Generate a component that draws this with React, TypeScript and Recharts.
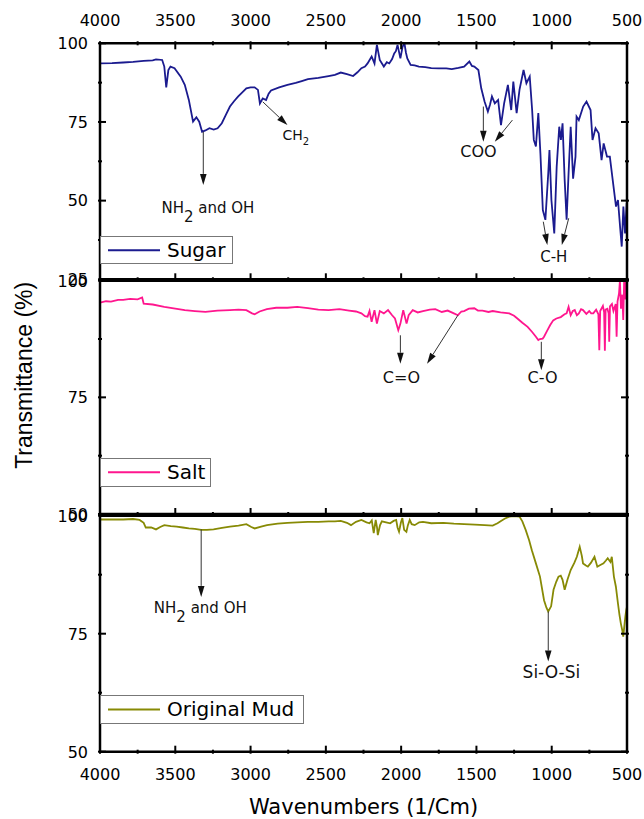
import React from 'react';
import { LineChart, Line, XAxis, YAxis, Legend, ReferenceLine, ReferenceDot } from 'recharts';

const FONT = '"DejaVu Sans", sans-serif';
const ARIAL = '"Liberation Sans", Arial, sans-serif';

// shared wavenumber ticks (major every 500, minor every 250)
const xTicks = [4000, 3750, 3500, 3250, 3000, 2750, 2500, 2250, 2000, 1750, 1500, 1250, 1000, 750, 500];
const sugarYTicks = [25, 37.5, 50, 62.5, 75, 87.5, 100];
const lowerYTicks = [50, 62.5, 75, 87.5, 100];

// Sugar spectrum
const sugarWavenumbers = [
  4000, 3920, 3846, 3780, 3710, 3650, 3628, 3587, 3573, 3560, 3546, 3532, 3505, 3464, 3437, 3410,
  3382, 3360, 3341, 3322, 3300, 3273, 3245, 3219, 3191, 3165, 3137, 3110, 3082, 3055, 3028, 3000,
  2973, 2951, 2938, 2919, 2897, 2880, 2864, 2810, 2755, 2700, 2660, 2619, 2550, 2482, 2440, 2401,
  2360, 2319, 2290, 2264, 2240, 2223, 2196, 2177, 2161, 2142, 2115, 2095, 2079, 2060, 2046, 2035,
  2024, 2005, 1990, 1978, 1968, 1959, 1937, 1910, 1882, 1840, 1800, 1750, 1700, 1664, 1620, 1582,
  1547, 1530, 1514, 1487, 1468, 1446, 1424, 1410, 1397, 1378, 1356, 1337, 1316, 1291, 1269, 1255,
  1233, 1214, 1187, 1168, 1146, 1130, 1119, 1105, 1089, 1075, 1059, 1042, 1023, 1015, 1002, 983,
  967, 950, 939, 928, 914, 901, 888, 874, 858, 842, 835, 820, 791, 769, 742, 729, 709, 688, 669,
  655, 633, 614, 595, 573, 560, 546, 535, 524, 513, 502, 500,
];
const sugarTransmittance = [
  93.6, 93.7, 93.9, 94.1, 94.4, 94.6, 94.9, 94.7, 92.6, 86.0, 91.5, 92.6, 92.1, 89.4, 86.8, 82.0,
  75.1, 76.5, 75.1, 71.9, 72.3, 73.0, 72.6, 73.0, 74.6, 77.2, 79.9, 81.6, 83.1, 84.4, 85.7, 86.0,
  86.0, 85.2, 80.9, 82.5, 82.0, 84.0, 85.0, 86.0, 86.8, 87.4, 88.0, 88.6, 89.0, 89.6, 90.0, 90.7,
  90.2, 89.6, 90.8, 92.1, 92.6, 93.6, 95.8, 93.6, 99.5, 94.7, 92.6, 94.0, 93.6, 95.0, 96.8, 97.5,
  99.5, 95.2, 99.0, 100, 97.0, 95.2, 93.1, 93.0, 92.6, 92.4, 92.1, 92.0, 92.0, 91.8, 92.2, 92.6,
  94.2, 92.8, 92.6, 91.5, 85.7, 81.5, 78.3, 80.5, 83.1, 80.9, 82.0, 74.0, 80.9, 86.8, 78.8, 87.8,
  77.8, 85.2, 91.5, 87.3, 89.4, 78.8, 69.3, 67.2, 77.8, 65.0, 47.0, 43.9, 58.7, 66.1, 50.2, 39.6,
  60.8, 73.5, 69.3, 74.6, 56.6, 43.9, 58.7, 73.5, 57.0, 64.0, 76.7, 75.6, 79.9, 81.5, 78.8, 69.3, 73.0, 71.4, 62.9,
  68.2, 64.0, 64.0, 56.6, 48.1, 50.2, 41.7, 35.4, 48.1, 39.6, 49.2, 46.0,
];

// Salt spectrum
const saltWavenumbers = [
  4000, 3960, 3927, 3880, 3846, 3800, 3750, 3720, 3710, 3650, 3573, 3500, 3437, 3370, 3300, 3220,
  3137, 3080, 3028, 2990, 2973, 2940, 2892, 2830, 2755, 2690, 2619, 2550, 2482, 2410, 2346, 2300,
  2264, 2240, 2223, 2210, 2196, 2177, 2161, 2142, 2115, 2087, 2060, 2041, 2019, 2005, 1986, 1964,
  1950, 1923, 1890, 1855, 1810, 1773, 1730, 1691, 1650, 1623, 1600, 1582, 1550, 1514, 1490, 1460,
  1420, 1392, 1340, 1282, 1250, 1228, 1195, 1160, 1130, 1105, 1089, 1078, 1060, 1051, 1030, 1010,
  990, 969, 940, 915, 901, 888, 874, 860, 847, 833, 820, 805, 792, 770, 751, 738, 724, 705, 690,
  684, 678, 660, 652, 647, 642, 630, 622, 618, 613, 600, 590, 575, 569, 563, 553, 547, 540, 531,
  525, 519, 513, 507, 500,
];
const saltTransmittance = [
  95.3, 95.6, 95.5, 95.9, 95.9, 96.1, 96.0, 96.4, 95.1, 94.9, 94.4, 94.0, 93.7, 93.5, 93.3, 93.6,
  93.7, 93.8, 93.7, 93.0, 92.8, 93.4, 93.9, 94.2, 94.2, 94.4, 94.1, 93.8, 93.7, 93.9, 93.6, 93.4,
  93.0, 92.4, 92.3, 93.5, 91.2, 93.7, 90.8, 93.5, 93.0, 93.7, 92.6, 91.9, 89.4, 90.8, 93.7, 90.8,
  92.6, 93.7, 93.2, 93.5, 93.8, 93.9, 93.3, 93.6, 93.0, 92.6, 93.4, 93.5, 94.0, 94.1, 93.6, 93.6,
  93.3, 93.5, 93.2, 93.0, 92.5, 91.9, 91.0, 90.1, 89.0, 88.0, 87.3, 87.5, 87.6, 88.0, 89.3, 90.5,
  91.5, 91.9, 92.2, 92.8, 93.0, 94.4, 92.6, 93.5, 93.7, 92.6, 93.0, 93.9, 93.7, 92.9, 93.5, 93.0, 93.0, 93.8, 92.8,
  85.1, 93.5, 94.6, 93.2, 85.0, 93.8, 94.0, 93.0, 86.9, 94.5, 95.0, 93.5, 95.0, 88.0, 95.5, 97.3, 100, 94.0, 97.0,
  91.6, 100, 96.0, 100, 97.0,
];

// Original mud spectrum
const mudWavenumbers = [
  4000, 3920, 3846, 3780, 3737, 3710, 3696, 3660, 3628, 3600, 3573, 3530, 3491, 3450, 3410, 3370,
  3328, 3290, 3246, 3190, 3137, 3080, 3028, 2995, 2973, 2930, 2891, 2820, 2755, 2690, 2619, 2550,
  2482, 2440, 2401, 2360, 2333, 2300, 2264, 2230, 2210, 2195, 2182, 2169, 2160, 2155, 2140, 2128,
  2100, 2073, 2050, 2033, 2024, 2014, 2002, 1992, 1980, 1965, 1955, 1943, 1930, 1910, 1880, 1855,
  1800, 1719, 1650, 1582, 1510, 1446, 1392, 1360, 1337, 1310, 1282, 1250, 1214, 1195, 1173, 1150,
  1132, 1105, 1078, 1051, 1035, 1023, 1004, 988, 970, 955, 940, 928, 914, 895, 874, 850, 833, 814,
  800, 792, 775, 760, 740, 716, 697, 680, 656, 640, 628, 610, 601, 595, 587, 574, 560, 550, 541,
  530, 525, 518, 511, 505, 500,
];
const mudTransmittance = [
  99.2, 99.2, 99.2, 99.3, 99.1, 98.5, 97.5, 97.5, 97.1, 97.6, 98.0, 97.8, 97.7, 97.5, 97.3, 97.2,
  97.0, 97.0, 97.1, 97.4, 97.7, 97.9, 98.2, 97.6, 97.3, 97.7, 98.0, 98.3, 98.5, 98.6, 98.7, 98.7,
  98.8, 98.8, 98.9, 98.5, 98.0, 98.7, 99.1, 98.6, 98.4, 99.0, 96.3, 99.1, 97.5, 95.9, 98.0, 98.8,
  98.6, 98.4, 98.9, 99.1, 97.5, 96.6, 98.5, 99.5, 97.0, 96.6, 98.0, 99.1, 98.2, 98.0, 98.6, 98.7,
  98.4, 98.5, 98.3, 98.2, 98.1, 98.0, 97.9, 98.4, 98.9, 99.4, 99.8, 99.9, 99.8, 98.8, 97.0, 94.8,
  92.7, 89.9, 87.1, 82.1, 80.5, 79.7, 80.8, 84.3, 86.0, 87.1, 87.3, 86.4, 84.3, 86.5, 88.5, 90.0, 91.3, 93.4,
  91.5, 89.9, 89.5, 89.2, 90.0, 91.3, 89.2, 89.5, 89.9, 90.5, 91.0, 90.2, 91.3, 89.5, 87.1, 85.0, 81.4, 79.0, 77.2,
  75.5, 74.4, 76.5, 78.6, 80.0, 80.7,
];

// band assignments: arrows (wavenumber, transmittance) and their labels
const sugarArrows = [
  { x1: 3314, y1: 71.9, x2: 3314, y2: 55 },
  { x1: 2919, y1: 81.4, x2: 2755, y2: 74.0 },
  { x1: 1454, y1: 79.9, x2: 1454, y2: 68.7 },
  { x1: 1261, y1: 75.6, x2: 1378, y2: 68.7 },
  { x1: 1056, y1: 43.3, x2: 1029, y2: 35.9 },
  { x1: 887, y1: 44.4, x2: 933, y2: 35.9 },
];
const sugarNotes = [
  { w: 3283, t: 46.1, text: 'NH', sub: '2', rest: ' and OH', size: 15, subSize: 15, subDy: 9 },
  { w: 2788, t: 69.3, text: 'CH', sub: '2', size: 14, subSize: 10, subDy: 5, anchor: 'start' },
  { w: 1487, t: 64.0, text: 'COO', size: 16 },
  { w: 986, t: 30.6, text: 'C-H', size: 15 },
];
const saltArrows = [
  { x1: 2005, y1: 88.3, x2: 2005, y2: 82.2 },
  { x1: 1623, y1: 92.6, x2: 1828, y2: 82.2 },
  { x1: 1069, y1: 86.9, x2: 1069, y2: 80.8 },
];
const saltNotes = [
  { w: 1998, t: 78.0, text: 'C=O', size: 16 },
  { w: 1061, t: 78.0, text: 'C-O', size: 16 },
];
const mudArrows = [
  { x1: 3328, y1: 97.1, x2: 3328, y2: 82.8 },
  { x1: 1023, y1: 79.7, x2: 1023, y2: 69.1 },
];
const mudNotes = [
  { w: 3334, t: 79.3, text: 'NH', sub: '2', rest: ' and OH', size: 15, subSize: 15, subDy: 9 },
  { w: 1002, t: 65.6, text: 'Si-O-Si', size: 17 },
];

const toRows = (ws: number[], ts: number[]) => ws.map((w, i) => ({ w, t: ts[i] }));

const AXIS = { stroke: '#000', strokeWidth: 2.5 };
const MAJOR = 8;
const MINOR = 4;

const xTick = (side: 'top' | 'bottom', labels: boolean) => (p: any) => {
  const { x, y, payload } = p;
  const v = payload.value;
  const major = v % 500 === 0;
  const dir = side === 'top' ? 1 : -1;
  return (
    <g>
      <line x1={x} y1={y} x2={x} y2={y + dir * (major ? MAJOR : MINOR)} stroke="#000" strokeWidth={2} />
      {labels && major && (
        <text x={x} y={side === 'top' ? y - 15.8 : y + 25.8} textAnchor="middle" fontSize={16} fontFamily={FONT} fill="#000">
          {v}
        </text>
      )}
    </g>
  );
};

const yTick = (side: 'left' | 'right') => (p: any) => {
  const { x, y, payload } = p;
  const v = payload.value;
  const major = v % 25 === 0;
  const dir = side === 'left' ? 1 : -1;
  return (
    <g>
      <line x1={x} y1={y} x2={x + dir * (major ? MAJOR : MINOR)} y2={y} stroke="#000" strokeWidth={2} />
      {side === 'left' && major && (
        <text x={x - 10} y={y + 5.8} textAnchor="end" fontSize={16} fontFamily={FONT} fill="#000">
          {v}
        </text>
      )}
    </g>
  );
};

const ArrowShape = (p: any) => {
  const { x1, y1, x2, y2 } = p;
  const dx = x2 - x1;
  const dy = y2 - y1;
  const len = Math.hypot(dx, dy) || 1;
  const ux = dx / len;
  const uy = dy / len;
  const head = 11;
  const half = 3.3;
  const bx = x2 - ux * head;
  const by = y2 - uy * head;
  const pts = `${x2},${y2} ${bx - uy * half},${by + ux * half} ${bx + uy * half},${by - ux * half}`;
  return (
    <g>
      <line x1={x1} y1={y1} x2={bx} y2={by} stroke="#333" strokeWidth={1} />
      <polygon points={pts} fill="#111" />
    </g>
  );
};

const noteShape = (n: any) => (p: any) => (
  <text x={p.cx} y={p.cy} textAnchor={n.anchor || 'middle'} fontSize={n.size} fontFamily={FONT} fill="#111">
    {n.text}
    {n.sub && (
      <tspan fontSize={n.subSize} dy={n.subDy}>
        {n.sub}
      </tspan>
    )}
    {n.rest && <tspan dy={-n.subDy}>{n.rest}</tspan>}
  </text>
);

const legendBox = (w: number, h: number) => (p: any) => {
  const item = p.payload && p.payload[0];
  if (!item) return null;
  return (
    <div
      style={{
        width: w,
        height: h,
        boxSizing: 'border-box',
        border: '1px solid #777',
        background: '#fff',
        position: 'relative',
        fontFamily: FONT,
        fontSize: 20,
        color: '#000',
      }}
    >
      <svg width={w} height={h} style={{ position: 'absolute', left: -1, top: -1 }}>
        <line x1={8} y1={h / 2} x2={60} y2={h / 2} stroke={item.color} strokeWidth={2} />
      </svg>
      <span style={{ position: 'absolute', left: 66, top: 0, lineHeight: `${h - 2}px` }}>{item.value}</span>
    </div>
  );
};

const yTitle = (p: any) => {
  const vb = p.viewBox;
  const x = vb.x - 8;
  const y = vb.y + vb.height / 2 - 22;
  return (
    <text x={x} y={y} transform={`rotate(-90 ${x} ${y})`} textAnchor="middle" fontSize={23} fontFamily={ARIAL} fill="#000">
      Transmittance (%)
    </text>
  );
};

const xTitle = (p: any) => {
  const vb = p.viewBox;
  return (
    <text x={vb.x + vb.width / 2} y={vb.y + 62.3} textAnchor="middle" fontSize={21} fontFamily={FONT} fill="#000">
      Wavenumbers (1/Cm)
    </text>
  );
};

interface PanelProps {
  data: { w: number; t: number }[];
  name: string;
  color: string;
  yMin: number;
  yTicks: number[];
  margin: { top: number; right: number; bottom: number; left: number };
  topHeight: number;
  bottomHeight: number;
  topMode: 'labels' | 'ticks' | 'none';
  bottomMode: 'labels' | 'ticks' | 'none';
  arrows: { x1: number; y1: number; x2: number; y2: number }[];
  notes: any[];
  legendTop: number;
  legendW: number;
  legendH: number;
  withYTitle?: boolean;
  withXTitle?: boolean;
}

const Panel: React.FC<PanelProps> = (props) => {
  const { data, name, color, yMin, yTicks, margin, topHeight, bottomHeight, topMode, bottomMode, arrows, notes } = props;
  return (
    <div style={{ position: 'absolute', left: 0, top: 0 }}>
      <LineChart width={644} height={819} data={data} margin={margin}>
        <XAxis
          xAxisId="t"
          orientation="top"
          type="number"
          dataKey="w"
          domain={[500, 4000]}
          reversed
          allowDataOverflow
          ticks={xTicks}
          interval={0}
          tickSize={0}
          tickLine={false}
          height={topHeight}
          axisLine={AXIS}
          tick={topMode === 'none' ? false : xTick('top', topMode === 'labels')}
        />
        <XAxis
          xAxisId="b"
          orientation="bottom"
          type="number"
          dataKey="w"
          domain={[500, 4000]}
          reversed
          allowDataOverflow
          ticks={xTicks}
          interval={0}
          tickSize={0}
          tickLine={false}
          height={bottomHeight}
          axisLine={AXIS}
          tick={bottomMode === 'none' ? false : xTick('bottom', bottomMode === 'labels')}
          label={props.withXTitle ? xTitle : undefined}
        />
        <YAxis
          yAxisId="l"
          orientation="left"
          type="number"
          domain={[yMin, 100]}
          allowDataOverflow
          ticks={yTicks}
          interval={0}
          tickSize={0}
          tickLine={false}
          width={60}
          axisLine={AXIS}
          tick={yTick('left')}
          label={props.withYTitle ? yTitle : undefined}
        />
        <YAxis
          yAxisId="r"
          orientation="right"
          type="number"
          domain={[yMin, 100]}
          allowDataOverflow
          ticks={yTicks}
          interval={0}
          tickSize={0}
          tickLine={false}
          width={10}
          axisLine={AXIS}
          tick={yTick('right')}
        />
        <Line
          xAxisId="b"
          yAxisId="l"
          type="linear"
          dataKey="t"
          name={name}
          stroke={color}
          strokeWidth={1.8}
          dot={false}
          isAnimationActive={false}
        />
        {arrows.map((a, i) => (
          <ReferenceLine
            key={`a${i}`}
            xAxisId="b"
            yAxisId="l"
            ifOverflow="visible"
            segment={[
              { x: a.x1, y: a.y1 },
              { x: a.x2, y: a.y2 },
            ]}
            shape={ArrowShape}
          />
        ))}
        {notes.map((n, i) => (
          <ReferenceDot key={`n${i}`} xAxisId="b" yAxisId="l" x={n.w} y={n.t} r={0} ifOverflow="visible" shape={noteShape(n)} />
        ))}
        <Legend
          layout="horizontal"
          verticalAlign="middle"
          align="center"
          content={legendBox(props.legendW, props.legendH)}
          wrapperStyle={{ left: 100, top: props.legendTop, width: props.legendW, height: props.legendH }}
        />
      </LineChart>
    </div>
  );
};

const App: React.FC = () => {
  return (
    <div style={{ position: 'absolute', left: 0, top: 0, width: 644, height: 819, background: '#fff' }}>
      <Panel
        data={toRows(sugarWavenumbers, sugarTransmittance)}
        name="Sugar"
        color="#1b1b8f"
        yMin={25}
        yTicks={sugarYTicks}
        margin={{ top: 13.3, right: 7, bottom: 538.7, left: 40 }}
        topHeight={30}
        bottomHeight={1}
        topMode="labels"
        bottomMode="ticks"
        arrows={sugarArrows}
        notes={sugarNotes}
        legendTop={235.7}
        legendW={133}
        legendH={28.6}
      />
      <Panel
        data={toRows(saltWavenumbers, saltTransmittance)}
        name="Salt"
        color="#ff168e"
        yMin={50}
        yTicks={lowerYTicks}
        margin={{ top: 279.7, right: 7, bottom: 304, left: 40 }}
        topHeight={1}
        bottomHeight={1}
        topMode="none"
        bottomMode="ticks"
        arrows={saltArrows}
        notes={saltNotes}
        legendTop={458.3}
        legendW={111}
        legendH={28.4}
        withYTitle
      />
      <Panel
        data={toRows(mudWavenumbers, mudTransmittance)}
        name="Original Mud"
        color="#878a05"
        yMin={50}
        yTicks={lowerYTicks}
        margin={{ top: 514.7, right: 7, bottom: 0, left: 40 }}
        topHeight={1}
        bottomHeight={67.3}
        topMode="none"
        bottomMode="labels"
        arrows={mudArrows}
        notes={mudNotes}
        legendTop={695}
        legendW={204}
        legendH={29}
        withXTitle
      />
    </div>
  );
};

export default App;
